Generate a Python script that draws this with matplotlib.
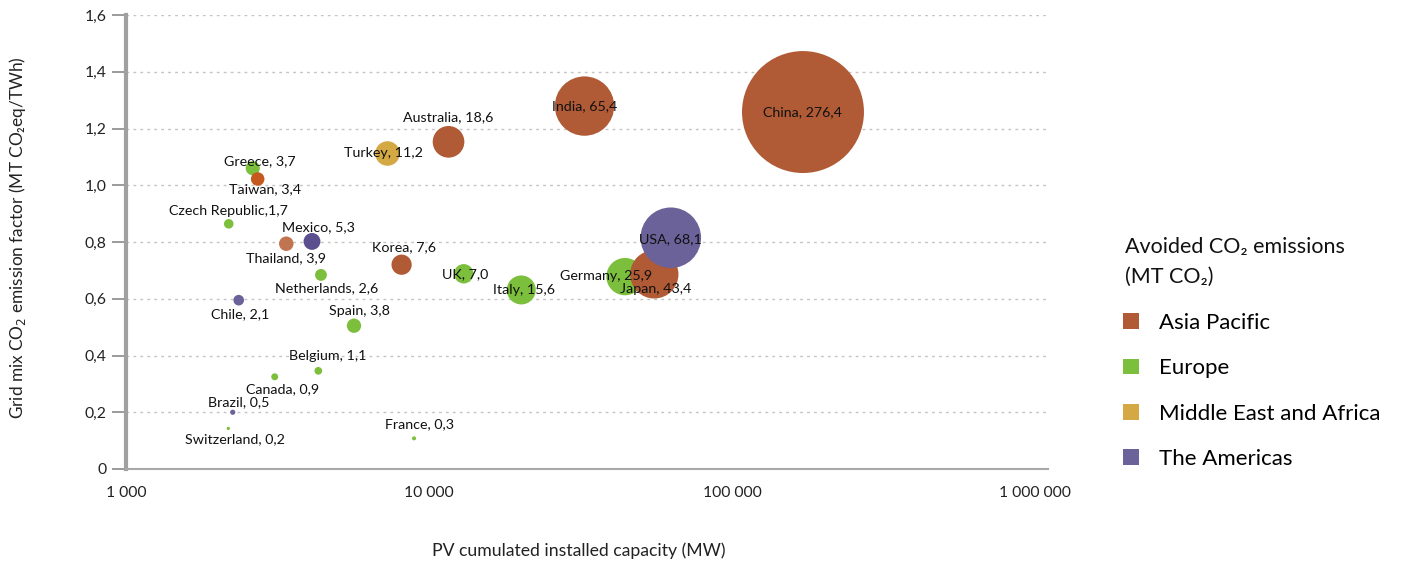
import matplotlib
matplotlib.use("Agg")
import matplotlib.pyplot as plt
from matplotlib.patches import Patch
from matplotlib.ticker import FixedLocator, NullLocator

plt.rcParams['font.family'] = ['Lato', 'DejaVu Sans']

# data
countries = ["China", "India", "Australia", "Korea", "Japan", "Taiwan", "Thailand",
             "Germany", "Italy", "UK", "Greece", "Czech Republic", "Netherlands",
             "Spain", "Belgium", "France", "Switzerland",
             "Turkey",
             "USA", "Mexico", "Chile", "Canada", "Brazil"]
# Canada is drawn in the Europe colour in the source chart
regions = ["Asia Pacific"] * 7 + ["Europe"] * 10 + ["Middle East and Africa"] + \
          ["The Americas"] * 3 + ["Europe"] + ["The Americas"]
capacity_mw = [171500, 32600, 11600, 8120, 55400, 2720, 3380,
               44350, 20160, 13020, 2620, 2183, 4400,
               5655, 4312, 8925, 2176,
               7250,
               62800, 4110, 2355, 3096, 2250]
grid_factor = [1.258, 1.279, 1.153, 0.720, 0.686, 1.022, 0.794,
               0.678, 0.631, 0.688, 1.060, 0.864, 0.684,
               0.505, 0.346, 0.108, 0.143,
               1.115,
               0.815, 0.802, 0.595, 0.325, 0.200]
avoided_co2 = [276.4, 65.4, 18.6, 7.6, 43.4, 3.4, 3.9,
               25.9, 15.6, 7.0, 3.7, 1.7, 2.6,
               3.8, 1.1, 0.3, 0.2,
               11.2,
               68.1, 5.3, 2.1, 0.9, 0.5]
labels = ["China, 276,4", "India, 65,4", "Australia, 18,6", "Korea, 7,6", "Japan, 43,4",
          "Taiwan, 3,4", "Thailand, 3,9",
          "Germany, 25,9", "Italy, 15,6", "UK, 7,0", "Greece, 3,7", "Czech Republic,1,7",
          "Netherlands, 2,6", "Spain, 3,8", "Belgium, 1,1", "France, 0,3", "Switzerland, 0,2",
          "Turkey, 11,2",
          "USA, 68,1", "Mexico, 5,3", "Chile, 2,1", "Canada, 0,9", "Brazil, 0,5"]

region_order = ["Asia Pacific", "Europe", "Middle East and Africa", "The Americas"]
region_colors = {"Asia Pacific": "#B05A36", "Europe": "#7CBF3C",
                 "Middle East and Africa": "#D4A843", "The Americas": "#6A6298"}
# a few bubbles have a slightly different shade in the source
color_override = {"Taiwan": "#C5581E", "Thailand": "#C07550", "Mexico": "#5C4F8F"}

# label offsets in pixels (dx, dy) relative to bubble centre
label_offsets = {
    "China": (0, 0), "India": (0, 0), "Australia": (0, 25), "Korea": (2, 18),
    "Japan": (1, -15), "Taiwan": (7, -10), "Thailand": (0, -14),
    "Germany": (-19, 1), "Italy": (3, 0), "UK": (1, 0), "Greece": (7, 7),
    "Czech Republic": (0, 13), "Netherlands": (6, -13), "Spain": (6, 15),
    "Belgium": (9, 15), "France": (5, 14), "Switzerland": (7, -11),
    "Turkey": (-3, 0),
    "USA": (0, -1), "Mexico": (6, 14), "Chile": (1, -14), "Canada": (8, -12),
    "Brazil": (6, 10),
}

fig = plt.figure(figsize=(14.03, 5.69), dpi=100)
ax = fig.add_axes([126 / 1403, 1 - 469 / 569, (1048 - 126) / 1403, (469 - 15) / 569])

size_scale = 7711 / 276.4
draw_order = ["Europe", "Asia Pacific", "Middle East and Africa", "The Americas"]
for reg in draw_order:
    idx = [i for i, r in enumerate(regions) if r == reg]
    xs = [capacity_mw[i] for i in idx]
    ys = [grid_factor[i] for i in idx]
    ss = [avoided_co2[i] * size_scale for i in idx]
    cs = [color_override.get(countries[i], region_colors[reg]) for i in idx]
    ax.scatter(xs, ys, s=ss, c=cs, linewidths=0, zorder=3)

for name, x, y, lab in zip(countries, capacity_mw, grid_factor, labels):
    dx, dy = label_offsets[name]
    ax.annotate(lab, (x, y), xytext=(dx, dy), textcoords="offset pixels",
                ha="center", va="center", fontsize=10.3, color="#111111", zorder=5)

ax.set_xscale("log")
ax.set_xlim(1000, 10 ** (3 + 922 / 303))
ax.set_ylim(0, 1.6)
ax.xaxis.set_major_locator(FixedLocator([1e3, 1e4, 1e5, 1e6]))
ax.xaxis.set_minor_locator(NullLocator())
ax.set_xticklabels(["1 000", "10 000", "100 000", "1 000 000"])
ax.set_yticks([0, 0.2, 0.4, 0.6, 0.8, 1.0, 1.2, 1.4, 1.6])
ax.set_yticklabels(["0", "0,2", "0,4", "0,6", "0,8", "1,0", "1,2", "1,4", "1,6"])
ax.tick_params(axis="x", length=0, pad=12, labelsize=11.3, colors="#222222")
ax.tick_params(axis="y", length=10, width=1.2, color="#8a8a8a", pad=4,
               labelsize=11.3, labelcolor="#222222")
ax.grid(axis="y", linestyle=(0, (2, 3)), color="#c4c4c4", linewidth=1, zorder=0)

for side in ["top", "right"]:
    ax.spines[side].set_visible(False)
ax.spines["left"].set_color("#a0a0a0")
ax.spines["left"].set_linewidth(3)
ax.spines["bottom"].set_color("#a8a8a8")
ax.spines["bottom"].set_linewidth(1.5)

fig.text(18 / 1403, 1 - 238 / 569, "Grid mix CO$_2$ emission factor (MT CO₂eq/TWh)",
         rotation=90, ha="center", va="center", fontsize=12.4, color="#222222")
fig.text(579 / 1403, 1 - 551 / 569, "PV cumulated installed capacity (MW)",
         ha="center", va="center", fontsize=12.7, color="#222222")

# legend
fig.text(1125 / 1403, 1 - 247 / 569, "Avoided CO₂ emissions", ha="left", va="center",
         fontsize=15.5, color="#111111")
fig.text(1125 / 1403, 1 - 277 / 569, "(MT CO₂)", ha="left", va="center",
         fontsize=15.5, color="#111111")
handles = [Patch(facecolor=region_colors[r], edgecolor="none") for r in region_order]
leg = fig.legend(handles, region_order, loc="upper left",
                 bbox_to_anchor=(1123 / 1403, 1 - 313 / 569), frameon=False,
                 borderpad=0, borderaxespad=0,
                 fontsize=16, handlelength=0.72, handleheight=0.72,
                 handletextpad=0.9, labelspacing=1.14)

fig.savefig("out.png", dpi=100)
